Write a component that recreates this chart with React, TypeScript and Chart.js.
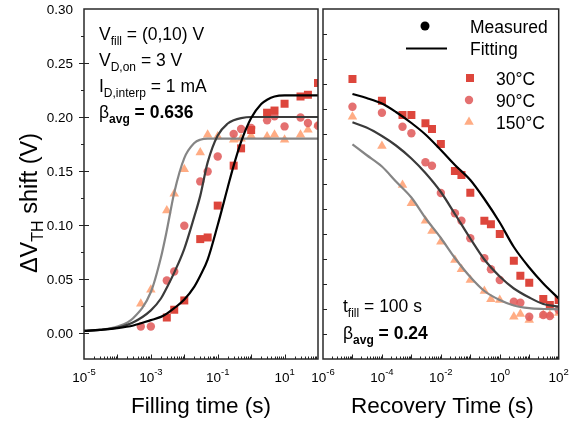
import React, { useEffect, useRef } from "react";
import { Chart, registerables } from "chart.js";
Chart.register(...registerables);

// ---------- DATA ----------
const fillTimes = [5e-4, 1e-3, 3e-3, 5e-3, 1e-2, 3e-2, 5e-2, 0.1, 0.3, 0.5, 1, 3, 5, 10, 30, 50, 100];
const fill30: (number | null)[] = [null, null, 0.0144, 0.0216, 0.0302, 0.087, 0.0885, 0.118, 0.155, 0.171, 0.188, 0.204, 0.206, 0.2123, 0.219, 0.2206, 0.2315];
const fill90: (number | null)[] = [0.0061, 0.0061, 0.0487, 0.057, 0.0994, 0.1404, 0.1496, 0.1635, 0.1843, 0.1889, 0.1898, 0.1969, 0.2006, 0.1913, 0.1996, 0.1944, 0.192];
const fill150: (number | null)[] = [0.0271, 0.0401, 0.1135, 0.129, 0.1517, 0.1672, 0.1836, 0.182, 0.179, 0.18, 0.1827, 0.182, 0.1836, 0.179, 0.1836, 0.1882, 0.1929];

const fillFitT = [1e-5, 3e-5, 1e-4, 3e-4, 1e-3, 2e-3, 3e-3, 5e-3, 1e-2, 2e-2, 3e-2, 5e-2, 0.1, 0.2, 0.3, 0.5, 1, 2, 3, 5, 10, 30, 100];
const fillFit30 = [0.002, 0.003, 0.0045, 0.007, 0.012, 0.015, 0.018, 0.023, 0.031, 0.043, 0.053, 0.068, 0.1, 0.135, 0.155, 0.177, 0.199, 0.212, 0.216, 0.219, 0.22, 0.22, 0.22];
const fillFit90 = [0.002, 0.003, 0.005, 0.01, 0.021, 0.032, 0.042, 0.056, 0.078, 0.108, 0.127, 0.158, 0.183, 0.194, 0.197, 0.199, 0.2, 0.2, 0.2, 0.2, 0.2, 0.2, 0.2];
const fillFit150 = [0.002, 0.003, 0.006, 0.014, 0.038, 0.07, 0.095, 0.13, 0.162, 0.176, 0.179, 0.18, 0.18, 0.18, 0.18, 0.18, 0.18, 0.18, 0.18, 0.18, 0.18, 0.18, 0.18];

const recTimes = [1e-5, 1e-4, 5e-4, 1e-3, 3e-3, 5e-3, 1e-2, 3e-2, 5e-2, 0.1, 0.3, 0.5, 1, 3, 5, 10, 30, 50, 100];
const rec30 = [0.28, 0.2583, 0.244, 0.244, 0.2357, 0.23, 0.215, 0.188, 0.184, 0.1663, 0.1383, 0.1347, 0.125, 0.0983, 0.0833, 0.0763, 0.06, 0.054, 0.059];
const rec90 = [0.2523, 0.2463, 0.2323, 0.2257, 0.1967, 0.1933, 0.166, 0.1457, 0.1383, 0.1207, 0.1007, 0.0897, 0.079, 0.0573, 0.0563, 0.0423, 0.044, 0.043, 0.049];
const rec150 = [0.2423, 0.213, 0.174, 0.1557, 0.1383, 0.128, 0.1173, 0.099, 0.0897, 0.079, 0.068, 0.0597, 0.059, 0.0423, 0.045, 0.039, 0.044, 0.044, 0.046];

const recFitT = [1e-5, 3e-5, 1e-4, 3e-4, 1e-3, 3e-3, 1e-2, 3e-2, 0.1, 0.3, 1, 3, 10, 30, 100];
const recFit30 = [0.265, 0.261, 0.2555, 0.247, 0.236, 0.2245, 0.209, 0.194, 0.179, 0.16, 0.1365, 0.112, 0.0915, 0.0755, 0.0605];
const recFit90 = [0.2367, 0.2315, 0.223, 0.2135, 0.2005, 0.186, 0.167, 0.145, 0.1205, 0.0995, 0.0825, 0.0705, 0.0615, 0.055, 0.0523];
const recFit150 = [0.2147, 0.204, 0.1925, 0.1775, 0.1615, 0.141, 0.121, 0.101, 0.082, 0.068, 0.059, 0.0535, 0.0508, 0.05, 0.0497];

const seriesNames = ["30°C", "90°C", "150°C"];
const leftXLabels = [-5, -3, -1, 1];
const rightXLabels = [-6, -4, -2, 0, 2];
const leftYLabels = [0, 0.05, 0.1, 0.15, 0.2, 0.25, 0.3];

// ---------- STYLE ----------
const FONT = '"Liberation Sans", Arial, sans-serif';
const C_SQ = "rgb(221,70,60)";
const C_CI = "rgba(224,92,92,0.88)";
const C_TR = "rgba(255,168,125,0.95)";
const L_COL = ["#000000", "#3a3a3a", "#858585"];
const TXT = 17.5;
const SUB = 12;

type Seg = { t: string; sub?: boolean; sup?: boolean; bold?: boolean };
function drawRich(ctx: CanvasRenderingContext2D, segs: Seg[], x: number, y: number, size: number, align: "left" | "center" | "right", subSize?: number) {
  const ss = subSize ?? Math.round(size * 0.7);
  const parts = segs.map((s) => {
    const fs = s.sub || s.sup ? ss : size;
    const font = `${s.bold ? "bold " : ""}${fs}px ${FONT}`;
    ctx.font = font;
    return { ...s, font, w: ctx.measureText(s.t).width, dy: s.sub ? size * 0.26 : s.sup ? -size * 0.52 : 0 };
  });
  const total = parts.reduce((a, p) => a + p.w, 0);
  let cx = align === "center" ? x - total / 2 : align === "right" ? x - total : x;
  ctx.textAlign = "left";
  ctx.textBaseline = "alphabetic";
  for (const p of parts) {
    ctx.font = p.font;
    ctx.fillText(p.t, cx, y + p.dy);
    cx += p.w;
  }
}

function logTicks(lo: number, hi: number) {
  const out: { value: number }[] = [];
  for (let e = lo; e < hi; e++) {
    for (let m = 1; m <= 9; m++) out.push({ value: m * Math.pow(10, e) });
  }
  out.push({ value: Math.pow(10, hi) });
  return out;
}
function linTicks(lo: number, hi: number, step: number) {
  const out: { value: number }[] = [];
  const n = Math.round((hi - lo) / step);
  for (let i = 0; i <= n; i++) out.push({ value: +(lo + i * step).toFixed(4) });
  return out;
}

function pts(xs: number[], ys: (number | null)[]) {
  const out: { x: number; y: number }[] = [];
  xs.forEach((x, i) => {
    const y = ys[i];
    if (y !== null && y !== undefined) out.push({ x, y });
  });
  return out;
}

function lineDs(xs: number[], ys: number[], color: string) {
  return {
    data: pts(xs, ys),
    showLine: true,
    borderColor: color,
    borderWidth: 2.2,
    pointRadius: 0,
    cubicInterpolationMode: "monotone" as const,
    fill: false,
  };
}
function markDs(xs: number[], ys: (number | null)[], style: string, color: string, r: number) {
  return {
    data: pts(xs, ys),
    showLine: false,
    pointStyle: style,
    pointRadius: r,
    backgroundColor: color,
    borderColor: color,
    borderWidth: 0,
  };
}

function drawSquare(ctx: CanvasRenderingContext2D, x: number, y: number, s: number, c: string) {
  ctx.fillStyle = c;
  ctx.fillRect(x - s / 2, y - s / 2, s, s);
}
function drawCircle(ctx: CanvasRenderingContext2D, x: number, y: number, r: number, c: string) {
  ctx.fillStyle = c;
  ctx.beginPath();
  ctx.arc(x, y, r, 0, Math.PI * 2);
  ctx.fill();
}
function drawTri(ctx: CanvasRenderingContext2D, x: number, y: number, r: number, c: string) {
  ctx.fillStyle = c;
  ctx.beginPath();
  for (let k = 0; k < 3; k++) {
    const a = (k * 2 * Math.PI) / 3;
    const px = x + Math.sin(a) * r;
    const py = y - Math.cos(a) * r;
    if (k === 0) ctx.moveTo(px, py);
    else ctx.lineTo(px, py);
  }
  ctx.closePath();
  ctx.fill();
}

function panelPlugin(kind: "left" | "right") {
  return {
    id: "panel_" + kind,
    afterDraw(chart: any) {
      const ctx: CanvasRenderingContext2D = chart.ctx;
      const a = chart.chartArea;
      const xs = chart.scales.x;
      const ys = chart.scales.y;
      ctx.save();
      // frame
      ctx.strokeStyle = "#2a2a2a";
      ctx.lineWidth = 1.5;
      ctx.strokeRect(a.left, a.top, a.right - a.left, a.bottom - a.top);
      // x ticks (inward)
      ctx.lineWidth = 1;
      ctx.strokeStyle = "#222";
      for (const t of xs.ticks) {
        const v = t.value;
        const lg = Math.log10(v);
        const major = Math.abs(lg - Math.round(lg)) < 1e-6;
        const px = Math.round(xs.getPixelForValue(v)) + 0.5;
        if (px < a.left + 1 || px > a.right - 1) continue;
        ctx.beginPath();
        ctx.moveTo(px, a.bottom);
        ctx.lineTo(px, a.bottom - (major ? 4.5 : 2.5));
        ctx.stroke();
      }
      // y ticks
      for (const t of ys.ticks) {
        const v = t.value;
        const py = Math.round(ys.getPixelForValue(v)) + 0.5;
        if (py < a.top + 1 || py > a.bottom - 1) continue;
        ctx.beginPath();
        if (kind === "left") {
          const major = Math.abs(v / 0.05 - Math.round(v / 0.05)) < 1e-6;
          ctx.moveTo(a.left - (major ? 5 : 3), py);
          ctx.lineTo(a.left + (major ? 5 : 0), py);
        } else {
          ctx.moveTo(a.left, py);
          ctx.lineTo(a.left + 4, py);
        }
        ctx.stroke();
      }
      ctx.fillStyle = "#000";
      // x labels
      const labs = kind === "left" ? leftXLabels : rightXLabels;
      for (const e of labs) {
        const px = xs.getPixelForValue(Math.pow(10, e));
        drawRich(ctx, [{ t: "10" }, { t: String(e), sup: true }], px, 382, 13.5, "center", 9.5);
      }
      // y labels
      if (kind === "left") {
        for (const v of leftYLabels) {
          const py = ys.getPixelForValue(v);
          ctx.font = `13.5px ${FONT}`;
          ctx.textAlign = "right";
          ctx.textBaseline = "alphabetic";
          ctx.fillText(v.toFixed(2), 73, py + 4.8);
        }
        // y title
        ctx.save();
        ctx.translate(37, 203);
        ctx.rotate(-Math.PI / 2);
        drawRich(ctx, [{ t: "\u0394V" }, { t: "TH", sub: true }, { t: " shift (V)" }], 0, 0, 23.5, "center", 16);
        ctx.restore();
        // x title
        ctx.font = `22.5px ${FONT}`;
        ctx.textAlign = "center";
        ctx.fillText("Filling time (s)", (a.left + a.right) / 2, 413);
        // annotations
        drawRich(ctx, [{ t: "V" }, { t: "fill", sub: true }, { t: " = (0,10) V" }], 99, 40, TXT, "left", SUB);
        drawRich(ctx, [{ t: "V" }, { t: "D,on", sub: true }, { t: " = 3 V" }], 99, 66, TXT, "left", SUB);
        drawRich(ctx, [{ t: "I" }, { t: "D,interp", sub: true }, { t: " = 1 mA" }], 99, 92, TXT, "left", SUB);
        drawRich(ctx, [{ t: "\u03b2" }, { t: "avg", sub: true, bold: true }, { t: " = 0.636", bold: true }], 99, 118, TXT, "left", SUB);
      } else {
        ctx.font = `22.5px ${FONT}`;
        ctx.textAlign = "center";
        ctx.textBaseline = "alphabetic";
        ctx.fillText("Recovery Time (s)", (a.left + a.right) / 2 + 1.5, 413);
        drawRich(ctx, [{ t: "t" }, { t: "fill", sub: true }, { t: " = 100 s" }], 343, 312, TXT, "left", SUB);
        drawRich(ctx, [{ t: "\u03b2" }, { t: "avg", sub: true, bold: true }, { t: " = 0.24", bold: true }], 343, 339, TXT, "left", SUB);
        // legend
        drawCircle(ctx, 425, 26, 4.5, "#000");
        ctx.fillStyle = "#000";
        ctx.font = `${TXT}px ${FONT}`;
        ctx.textAlign = "left";
        ctx.fillText("Measured", 470, 32.5);
        ctx.strokeStyle = "#000";
        ctx.lineWidth = 2.2;
        ctx.beginPath();
        ctx.moveTo(406, 48.5);
        ctx.lineTo(447, 48.5);
        ctx.stroke();
        ctx.fillText("Fitting", 470, 54.5);
        drawSquare(ctx, 470, 78, 8, C_SQ);
        drawCircle(ctx, 469, 100, 4.2, C_CI);
        drawTri(ctx, 469, 122, 5.5, C_TR);
        ctx.fillStyle = "#000";
        ctx.font = `${TXT}px ${FONT}`;
        ctx.fillText(seriesNames[0], 496, 84.5);
        ctx.fillText(seriesNames[1], 496, 106.5);
        ctx.fillText(seriesNames[2], 496, 128.5);
      }
      ctx.restore();
    },
  };
}

function makeConfig(kind: "left" | "right") {
  const isL = kind === "left";
  const datasets = isL
    ? [
        lineDs(fillFitT, fillFit30, L_COL[0]),
        lineDs(fillFitT, fillFit90, L_COL[1]),
        lineDs(fillFitT, fillFit150, L_COL[2]),
        markDs(fillTimes, fill30, "rect", C_SQ, 5.66),
        markDs(fillTimes, fill90, "circle", C_CI, 4.2),
        markDs(fillTimes, fill150, "triangle", C_TR, 5.5),
      ]
    : [
        lineDs(recFitT, recFit30, L_COL[0]),
        lineDs(recFitT, recFit90, L_COL[1]),
        lineDs(recFitT, recFit150, L_COL[2]),
        markDs(recTimes, rec30, "rect", C_SQ, 5.66),
        markDs(recTimes, rec90, "circle", C_CI, 4.2),
        markDs(recTimes, rec150, "triangle", C_TR, 5.5),
      ];
  return {
    type: "scatter" as const,
    data: { datasets },
    options: {
      animation: false as const,
      responsive: false,
      devicePixelRatio: 1,
      layout: { padding: isL ? { left: 0, top: 9, right: 266, bottom: 0 } : { left: 0, top: 9, right: 25.3, bottom: 0 } },
      plugins: { legend: { display: false }, tooltip: { enabled: false } },
      scales: {
        x: {
          type: "logarithmic" as const,
          min: isL ? 1e-5 : 1e-6,
          max: 1e2,
          ticks: { display: false },
          grid: { display: false },
          border: { display: false },
          afterBuildTicks: (s: any) => {
            s.ticks = isL ? logTicks(-5, 2) : logTicks(-6, 2);
          },
          afterFit: (s: any) => {
            s.height = 63;
          },
        },
        y: {
          type: "linear" as const,
          min: isL ? -0.024 : 0,
          max: isL ? 0.3 : 0.35,
          ticks: { display: false },
          grid: { display: false },
          border: { display: false },
          afterBuildTicks: (s: any) => {
            s.ticks = isL ? linTicks(0, 0.3, 0.025) : linTicks(0, 0.35, 0.025);
          },
          afterFit: (s: any) => {
            s.width = isL ? 84 : 323;
          },
        },
      },
    },
    plugins: [panelPlugin(kind)],
  };
}

export default function App() {
  const leftRef = useRef<HTMLCanvasElement>(null);
  const rightRef = useRef<HTMLCanvasElement>(null);
  useEffect(() => {
    const c1 = new Chart(leftRef.current as HTMLCanvasElement, makeConfig("left") as any);
    const c2 = new Chart(rightRef.current as HTMLCanvasElement, makeConfig("right") as any);
    return () => {
      c1.destroy();
      c2.destroy();
    };
  }, []);
  const cs: React.CSSProperties = { position: "absolute", left: 0, top: 0, width: 584, height: 422 };
  return (
    <div style={{ position: "fixed", left: 0, top: 0, width: 584, height: 422, background: "#fff" }}>
      <canvas ref={leftRef} width={584} height={422} style={cs} />
      <canvas ref={rightRef} width={584} height={422} style={cs} />
    </div>
  );
}
